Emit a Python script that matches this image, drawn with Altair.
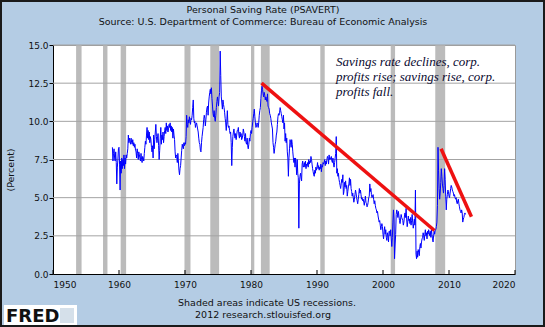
import altair as alt
import pandas as pd

# ---------------- data (monthly, Jan 1959 onward) ----------------
start_year = 1959
sav_1950s = [8.3, 7.4, 7.9, 8.2, 7.6, 7.4, 8.0, 7.3, 5.9, 7.0, 7.5, 8.2]
sav_1960s = [
    8.3, 7.2, 5.5, 7.4, 6.6, 7.6, 6.9, 7.5, 7.1, 7.8, 6.9, 7.6,
    7.2, 7.8, 7.6, 7.9, 8.2, 9.1, 8.6, 8.9, 8.7, 8.5, 8.9, 8.6,
    8.5, 8.8, 8.4, 8.6, 8.3, 8.5, 8.1, 8.0, 7.6, 8.2, 7.9, 7.5,
    8.0, 7.8, 7.6, 7.4, 7.9, 7.5, 7.3, 7.7, 7.6, 7.4, 7.9, 8.3,
    8.7, 8.5, 9.1, 9.6, 8.9, 9.4, 8.8, 9.3, 8.6, 9.0, 8.8, 8.3,
    8.0, 8.4, 7.6, 9.1, 8.2, 8.8, 9.3, 9.8, 9.0, 8.6, 8.9, 9.2,
    8.4, 7.5, 8.1, 8.9, 9.6, 8.5, 9.1, 8.8, 9.3, 8.6, 9.0, 9.4,
    9.6, 9.2, 9.9, 9.4, 9.7, 9.3, 9.5, 9.8, 9.6, 9.9, 9.4, 9.7,
    9.3, 9.6, 8.9, 9.5, 9.1, 8.8, 8.0, 7.6, 7.8, 7.7, 7.3, 7.9,
    7.4, 6.8, 6.5, 6.9, 7.1, 7.6, 8.1, 8.5, 8.3, 8.2, 8.6, 8.4,
]
sav_1970s = [
    8.6, 8.5, 9.0, 10.4, 9.8, 9.6, 10.1, 9.9, 10.3, 10.0, 9.8, 10.2,
    10.1, 10.4, 10.9, 11.4, 10.2, 9.9, 10.0, 9.6, 9.8, 9.9, 9.7, 9.5,
    9.3, 8.9, 8.6, 8.5, 8.1, 8.0, 8.6, 9.0, 9.3, 9.6, 10.1, 10.4,
    10.2, 9.7, 10.1, 10.6, 10.9, 11.0, 10.4, 11.2, 11.6, 11.9, 12.1, 11.8,
    12.2, 11.5, 11.0, 10.5, 10.3, 10.7, 10.2, 10.0, 10.4, 10.9, 11.3, 11.6,
    11.3, 11.0, 11.6, 11.9, 14.6, 13.0, 11.6, 11.2, 10.8, 11.4, 11.1, 10.9,
    10.6, 10.2, 9.9, 9.4, 10.0, 10.7, 9.8, 9.6, 9.7, 9.4, 9.2, 9.3,
    8.6, 7.1, 8.3, 9.0, 9.3, 9.5, 9.1, 8.9, 9.2, 8.8, 9.1, 9.4,
    9.4, 9.6, 9.1, 8.9, 9.3, 9.0, 9.2, 8.8, 8.9, 9.1, 9.5, 9.3,
    9.0, 8.7, 9.2, 8.6, 8.5, 8.9, 8.4, 8.2, 8.5, 8.9, 8.7, 9.2,
]
sav_1980s = [
    9.4, 9.2, 9.6, 9.9, 10.2, 10.5, 10.8, 10.3, 9.9, 9.6, 9.7, 9.9,
    9.8, 9.6, 9.9, 10.4, 10.7, 10.9, 11.5, 12.0, 12.3, 12.1, 11.8, 11.6,
    11.9, 11.7, 11.4, 11.6, 11.5, 11.3, 11.8, 11.0, 10.9, 10.8, 10.5, 10.4,
    10.2, 9.9, 9.7, 9.5, 8.6, 8.3, 7.9, 8.2, 8.5, 8.7, 9.1, 9.3,
    9.8, 10.3, 10.5, 10.4, 10.6, 10.9, 10.7, 10.5, 10.3, 10.1, 9.9, 10.4,
    9.5, 9.9, 8.7, 9.2, 8.6, 8.9, 8.0, 7.6, 6.4, 7.6, 8.2, 8.8,
    8.6, 8.3, 8.8, 8.5, 8.0, 7.6, 7.3, 7.6, 7.0, 7.6, 7.2, 6.5,
    7.5, 6.6, 6.3, 3.0, 5.9, 6.4, 6.6, 6.3, 6.1, 7.2, 7.4, 7.0,
    7.1, 7.3, 7.0, 7.4, 6.9, 7.2, 7.1, 7.3, 7.0, 7.5, 7.2, 7.4,
    7.3, 7.7, 7.5, 7.2, 6.9, 6.7, 6.5, 6.4, 6.8, 6.6, 7.0, 6.8,
]
sav_1990s = [
    7.0, 7.3, 6.9, 7.1, 6.8, 7.0, 6.9, 7.2, 6.7, 7.1, 7.0, 7.3,
    7.2, 7.3, 7.5, 7.1, 7.4, 7.2, 7.5, 7.7, 7.6, 7.2, 7.8, 7.5,
    7.5, 7.6, 7.7, 7.4, 7.3, 7.6, 7.2, 7.0, 7.3, 7.6, 7.9, 9.0,
    6.6, 6.9, 6.4, 6.6, 6.2, 6.0, 5.8, 5.6, 5.9, 6.2, 6.0, 6.5,
    5.2, 5.4, 6.0, 5.7, 6.1, 5.6, 5.8, 5.1, 5.4, 5.7, 5.9, 6.3,
    5.8, 6.2, 5.6, 5.4, 5.1, 5.3, 5.0, 4.7, 4.9, 5.2, 5.5, 5.3,
    5.0, 4.8, 4.6, 4.9, 5.2, 5.6, 5.3, 5.5, 5.2, 4.9, 5.0, 4.8,
    4.9, 4.7, 4.5, 4.8, 5.1, 4.7, 4.6, 4.4, 4.5, 4.7, 5.0, 5.1,
    5.9, 5.4, 5.6, 5.2, 5.0, 5.1, 5.2, 4.9, 4.6, 4.8, 4.5, 4.3,
    4.2, 4.0, 4.1, 3.8, 3.6, 3.4, 3.5, 3.2, 2.9, 3.1, 3.3, 3.1,
]
sav_2000s = [
    2.6, 2.3, 2.8, 3.1, 2.6, 2.9, 2.4, 2.2, 2.7, 2.5, 2.1, 2.8,
    2.8, 2.5, 2.9, 2.3, 1.8, 2.4, 3.4, 4.2, 3.6, 1.0, 1.9, 2.6,
    3.9, 4.2, 4.0, 3.7, 4.1, 3.8, 3.5, 3.3, 3.6, 3.9, 3.7, 3.6,
    3.5, 3.2, 3.4, 3.8, 4.0, 3.7, 4.3, 3.6, 3.1, 3.4, 3.8, 3.5,
    3.6, 3.3, 3.7, 3.2, 3.5, 3.9, 3.4, 3.0, 3.3, 3.6, 3.2, 5.5,
    1.3, 1.0, 1.5, 1.1, 1.6, 1.4, 1.2, 1.8, 2.0, 1.7, 2.1, 2.3,
    2.4, 2.7, 2.5, 2.2, 2.6, 2.9, 2.5, 2.7, 2.3, 2.8, 2.6, 2.9,
    2.7, 2.5, 2.8, 2.4, 2.9, 2.6, 2.3, 2.1, 2.5, 2.8, 2.6, 2.9,
    2.9, 3.1, 3.4, 4.5, 8.3, 6.8, 5.6, 4.9, 5.3, 6.0, 6.9, 6.4,
    5.9, 5.6, 5.3, 5.8, 6.9, 6.2, 5.1, 4.2, 4.9, 5.2, 5.5, 5.4,
]
sav_2010s = [
    5.1, 5.0, 5.3, 5.6, 5.8, 5.7, 5.5, 5.4, 5.3, 5.1, 5.2, 5.0,
    4.9, 5.0, 4.7, 4.6, 4.8, 4.9, 4.6, 4.4, 4.2, 4.1, 4.0, 4.2,
    4.0, 3.4, 3.6, 3.7, 3.9, 4.0, 3.9,
]

# NBER recessions (decimal years)
rec_start = [1953.50, 1957.58, 1960.25, 1969.92, 1973.83, 1980.00, 1981.50, 1990.50, 2001.17, 2007.92]
rec_end = [1954.33, 1958.25, 1961.08, 1970.83, 1975.17, 1980.50, 1982.83, 1991.17, 2001.83, 2009.42]

# hand-drawn red trend lines
trend1_year = [1981.6, 2007.8]
trend1_rate = [12.5, 2.85]
trend2_year = [2008.8, 2013.4]
trend2_rate = [8.2, 3.75]

decades = [1950, 1960, 1970, 1980, 1990, 2000, 2010, 2020]
y_ticks = [0.0, 2.5, 5.0, 7.5, 10.0, 12.5, 15.0]

note_lines = ["Savings rate declines, corp.", "profits rise; savings rise, corp.", "profits fall."]

# ---------------- build ----------------
values = sav_1950s + sav_1960s + sav_1970s + sav_1980s + sav_1990s + sav_2000s + sav_2010s
df = pd.DataFrame({"year": [start_year + i / 12 for i in range(len(values))], "rate": values})
rec_df = pd.DataFrame({"year": rec_start, "year_end": rec_end})
grid_df = pd.DataFrame({"rate": y_ticks[1:]})
trend_df = pd.DataFrame({
    "year": trend1_year + trend2_year,
    "rate": trend1_rate + trend2_rate,
    "seg": ["a", "a", "b", "b"],
})
tick_df = pd.DataFrame({"year": decades})

W, H = 462, 229
FONT = "DejaVu Sans"

xscale = alt.Scale(domain=[1950, 2020], nice=False, zero=False)
yscale = alt.Scale(domain=[0, 15], nice=False, zero=True)
xaxis = alt.Axis(values=decades, format="d", ticks=False, grid=False, title=None,
                 domainColor="#000000", labelPadding=6, labelFont=FONT, labelFontSize=9,
                 labelColor="#111111")
yaxis = alt.Axis(values=y_ticks, format=".1f", grid=False, title=None, tickSize=4,
                 tickColor="#000000", domainColor="#000000", labelPadding=1,
                 labelFont=FONT, labelFontSize=9, labelColor="#111111")


def X(field="year"):
    return alt.X(f"{field}:Q", scale=xscale, axis=xaxis)


def Y(field="rate"):
    return alt.Y(f"{field}:Q", scale=yscale, axis=yaxis)


rec = alt.Chart(rec_df).mark_rect(color="#BBBBBB").encode(
    x=X(), x2="year_end:Q", y=alt.value(0), y2=alt.value(H))
grid = alt.Chart(grid_df).mark_rule(color="#A3A3A3", strokeWidth=1).encode(y=Y())
line = alt.Chart(df).mark_line(color="#0000FF", strokeWidth=1).encode(x=X(), y=Y())
trend = alt.Chart(trend_df).mark_line(color="#EE1111", strokeWidth=3.5).encode(
    x=X(), y=Y(), detail="seg:N")
xticks = alt.Chart(tick_df).mark_rule(color="#000000", strokeWidth=1).encode(
    x=X(), y=alt.value(H), y2=alt.value(H - 4))


def text(t, x, y, **kw):
    return alt.Chart(pd.DataFrame({"t": [t]})).mark_text(**kw).encode(
        x=alt.value(x), y=alt.value(y), text="t:N")


note = [text(s, 283, 21 + 15 * i, align="left", baseline="alphabetic",
             font="Liberation Serif", fontStyle="italic", fontSize=13, color="#0a0a30")
        for i, s in enumerate(note_lines)]

title = text("Personal Saving Rate (PSAVERT)", 210, -35, font=FONT, fontSize=9.5,
             color="#111111", baseline="middle", align="center")
subtitle = text("Source: U.S. Department of Commerce: Bureau of Economic Analysis", 210, -23,
                font=FONT, fontSize=9.5, color="#111111", baseline="middle", align="center")
ytitle = text("(Percent)", -42, 125, font=FONT, fontSize=9.5, color="#111111",
              baseline="middle", align="center", angle=270)
foot1 = text("Shaded areas indicate US recessions.", 214, 258, font=FONT, fontSize=9.5,
             color="#111111", baseline="middle", align="center")
foot2 = text("2012 research.stlouisfed.org", 210, 270, font=FONT, fontSize=9.5,
             color="#111111", baseline="middle", align="center")

logo_box = alt.Chart(pd.DataFrame({"t": [0]})).mark_rect(color="#FFFFFF").encode(
    x=alt.value(-49), x2=alt.value(24), y=alt.value(260), y2=alt.value(280))
logo_icon = alt.Chart(pd.DataFrame({"t": [0]})).mark_rect(color="#D5E0EA").encode(
    x=alt.value(7), x2=alt.value(21), y=alt.value(263), y2=alt.value(278))
logo_text = text("FRED", -47, 277, font=FONT, fontWeight="bold", fontSize=18,
                 color="#111111", align="left", baseline="alphabetic")
border = alt.Chart(pd.DataFrame({"t": [0]})).mark_rect(
    fill="transparent", stroke="#1a1a1a", strokeWidth=2).encode(
    x=alt.value(-52), x2=alt.value(491), y=alt.value(-44), y2=alt.value(281))

chart = alt.layer(
    rec, grid, line, trend, xticks, *note, title, subtitle, ytitle, foot1, foot2,
    logo_box, logo_icon, logo_text, border
).properties(
    width=W, height=H,
    padding={"left": 53, "top": 45, "right": 30, "bottom": 53},
    autosize=alt.AutoSizeParams(type="none"),
    background="#B4CCE4",
).configure_view(fill="#FFFFFF", stroke="#9A9A9A", strokeWidth=1)

chart.save("out.html", embed_options={"renderer": "svg", "actions": False})
